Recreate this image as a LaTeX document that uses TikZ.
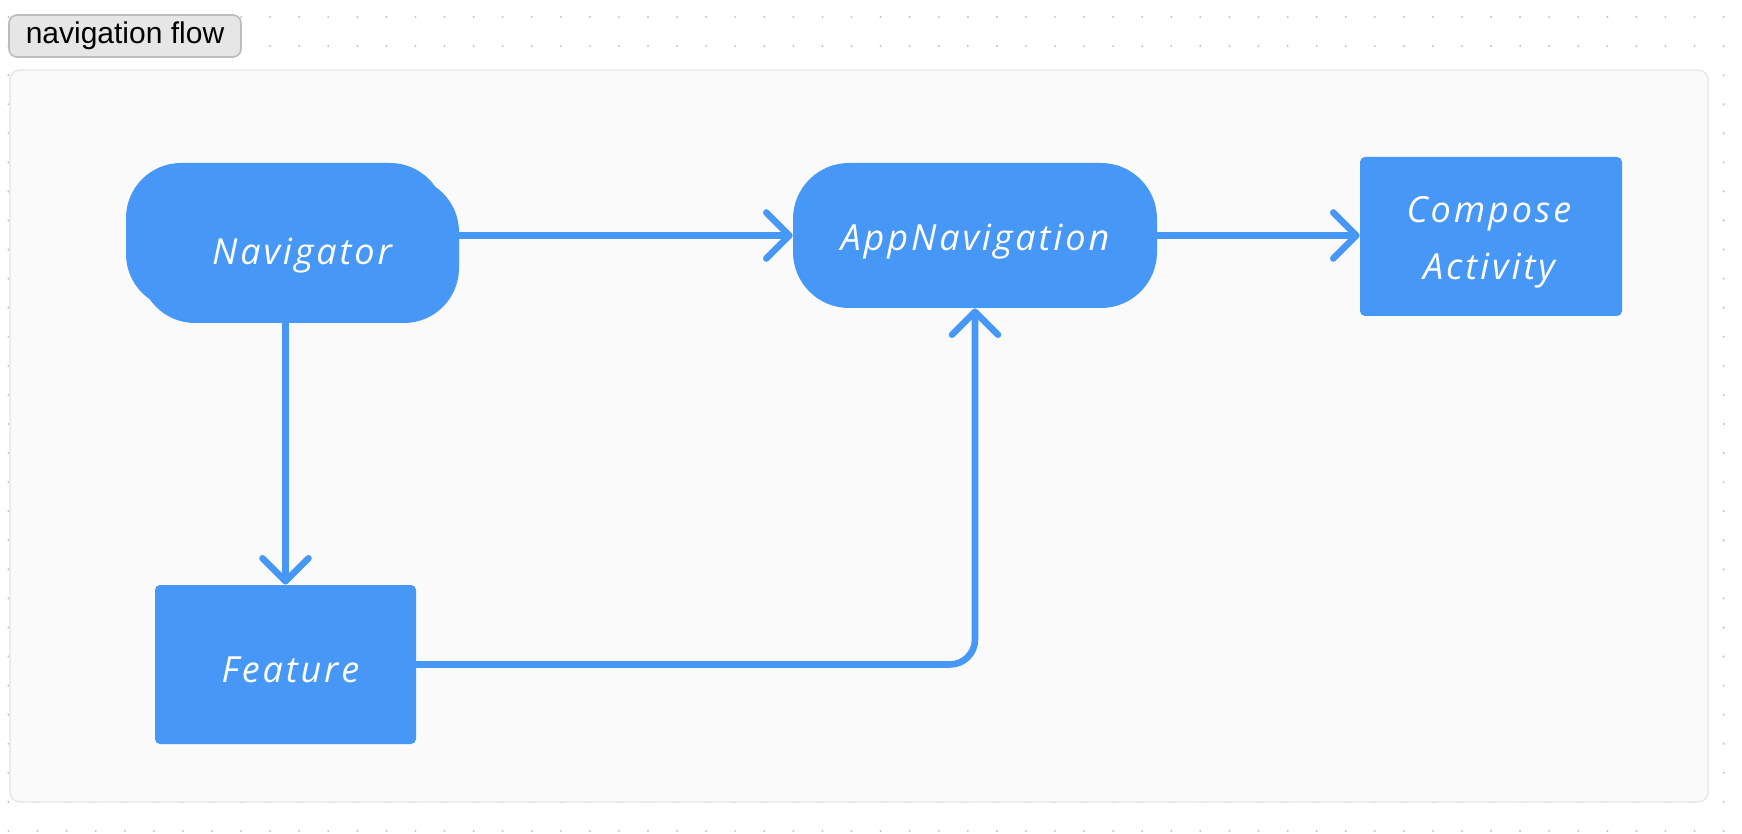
\documentclass[tikz,border=0pt]{standalone}
\usepackage{fontspec}
\setmainfont{Liberation Sans}
\newfontfamily\hand[LetterSpace=8]{Open Sans}
\usetikzlibrary{arrows.meta}
\definecolor{nodeblue}{RGB}{71,151,247}
\definecolor{dotc}{RGB}{200,200,200}
\definecolor{framebg}{RGB}{250,250,250}
\definecolor{frameline}{RGB}{228,228,228}
\definecolor{badgebg}{RGB}{230,230,230}
\definecolor{badgeline}{RGB}{188,188,188}
\tikzset{
  blueshape/.style={fill=nodeblue, draw=none, inner sep=0pt},
  roundbox/.style={blueshape, rounded corners=28pt},
  sqbox/.style={blueshape, rounded corners=2.5pt},
  lbl/.style={text=white, font=\hand\itshape\fontsize{18}{28.5}\selectfont, align=center, inner sep=0pt},
  conn/.style={draw=nodeblue, line width=3.3pt, line cap=round, line join=round,
    -{Straight Barb[length=11.5pt,width=23pt,round]}},
  badge/.style={fill=badgebg, draw=badgeline, line width=0.8pt, rounded corners=4pt,
    minimum width=116pt, minimum height=21pt, inner sep=0pt,
    font=\fontsize{15}{18}\selectfont, text=black}
}
\begin{document}
\begin{tikzpicture}[x=0.5pt,y=-0.5pt]
\useasboundingbox (0,0) rectangle (1742,834);
\fill[white] (0,0) rectangle (1742,834);
% dotted grid
\foreach \i in {0,...,59}{
  \foreach \j in {0,...,28}{
    \fill[dotc] ({8.5+29.07*\i},{17+29.07*\j}) circle (0.6pt);
  }
}
% frame
\draw[draw=frameline, fill=framebg, rounded corners=5pt, line width=0.6pt] (10,70) rectangle (1708,802);
% title badge
\node[badge] (title) at (125,36) {navigation flow};
% Navigator (double sketchy shape)
\fill[nodeblue, rounded corners=27.5pt] (126,163) rectangle (445,309);
\fill[nodeblue, rounded corners=27.5pt] (140,177) rectangle (459,323);
\node[inner sep=0pt, minimum width=166.5pt, minimum height=80pt] (nav) at (292.5,243) {};
\node[lbl] (navlbl) at (302,256) {Navigator};
% AppNavigation
\node[roundbox, minimum width=182pt, minimum height=72.5pt] (app) at (975,235.5) {};
\node[lbl] (applbl) at (975,242) {AppNavigation};
% Compose Activity
\node[sqbox, minimum width=131pt, minimum height=79.5pt] (comp) at (1491,236.5) {};
\node[lbl] (complbl) at (1489,242) {Compose\\Activity};
% Feature
\node[sqbox, minimum width=130.5pt, minimum height=79.5pt] (feat) at (285.5,664.5) {};
\node[lbl] (featlbl) at (290.5,670) {Feature};
% connectors
\draw[conn] (nav.east |- app.west) -- (app.west);
\draw[conn] (app.east) -- (app.east -| comp.west);
\draw[conn] (feat.north |- nav.south) -- (feat.north);
\draw[conn, rounded corners=12.5pt] (feat.east) -- (feat.east -| app.south) -- (app.south);
\end{tikzpicture}
\end{document}
